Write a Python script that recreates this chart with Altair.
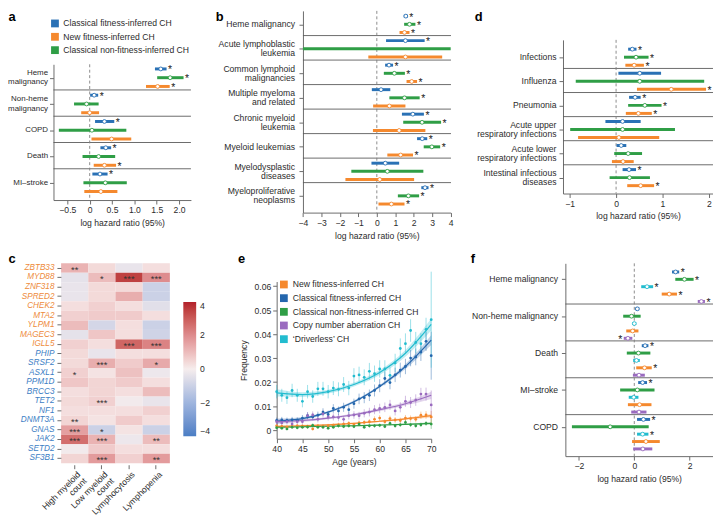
import altair as alt
import pandas as pd

W, H = 713, 516


def V(v):
    return v - 8


FONT = "Liberation Sans"
TXT = "#2b2b2b"
AXC = "#6b6b6b"
SEPC = "#5a5a5a"
FS = 8.7

BLUE = "#2a71b5"
ORANGE = "#f5892e"
GREEN = "#2f9e46"
CYAN = "#22bccf"
PURPLE = "#9a6bbf"

S_CF = "Classical fitness-inferred CH"
S_NF = "New fitness-inferred CH"
S_CN = "Classical non-fitness-inferred CH"
S_CNA = "Copy number aberration CH"
S_DL = "\u2018Driverless\u2019 CH"

# ---------------- panel a ----------------
a_cats = ["Heme\nmalignancy", "Non-heme\nmalignancy", "COPD", "Death", "MI\u2013stroke"]
a_series = [S_CF, S_CN, S_NF]
a_colors = [BLUE, GREEN, ORANGE]
a_lo = [[1.46, 0.01, 0.12, 0.24, 0.06],
        [1.51, -0.35, -0.69, -0.16, -0.14],
        [1.26, -0.19, 0.04, 0.09, -0.12]]
a_hi = [[1.72, 0.19, 0.55, 0.48, 0.40],
        [2.10, 0.20, 0.82, 0.57, 0.83],
        [1.79, 0.21, 0.93, 0.59, 0.62]]
a_est = [[1.59, 0.10, 0.33, 0.36, 0.23],
         [1.80, -0.07, 0.05, 0.20, 0.35],
         [1.52, 0.00, 0.49, 0.33, 0.25]]
a_sig = [[1, 1, 1, 1, 1],
         [1, 0, 0, 0, 0],
         [1, 0, 0, 1, 0]]
a_legend = [S_CF, S_NF, S_CN]
a_legend_colors = [BLUE, ORANGE, GREEN]

# ---------------- panel b ----------------
b_cats = ["Heme malignancy", "Acute lymphoblastic\nleukemia", "Common lymphoid\nmalignancies",
          "Multiple myeloma\nand related", "Chronic myeloid\nleukemia", "Myeloid leukemias",
          "Myelodysplastic\ndiseases", "Myeloproliferative\nneoplasms"]
b_lo = [[1.46, 0.50, 0.45, -0.27, 1.36, 2.18, -0.29, 2.41],
        [1.48, -4.00, 0.38, 0.68, 1.43, 2.54, -1.38, 1.14],
        [1.23, -0.46, 1.61, -0.20, -0.21, 0.57, -1.70, 0.09]]
b_hi = [[1.68, 2.59, 0.88, 0.73, 2.55, 2.73, 1.21, 2.80],
        [2.09, 4.00, 1.52, 2.32, 3.48, 3.43, 2.52, 2.29],
        [1.77, 3.54, 2.18, 1.55, 2.63, 1.96, 2.02, 1.50]]
b_est = [[1.57, 1.55, 0.66, 0.23, 1.95, 2.46, 0.46, 2.61],
         [1.77, None, 0.95, 1.50, 2.45, 2.98, 0.57, 1.71],
         [1.50, 1.55, 1.89, 0.68, 1.21, 1.29, 0.16, 0.79]]
b_sig = [[1, 1, 1, 0, 1, 1, 0, 1],
         [1, 0, 1, 1, 1, 1, 0, 1],
         [1, 0, 1, 0, 0, 1, 0, 1]]

# ---------------- panel d ----------------
d_cats = ["Infections", "Influenza", "Pneumonia", "Acute upper\nrespiratory infections",
          "Acute lower\nrespiratory infections", "Intestinal infectious\ndiseases"]
d_lo = [[0.26, 0.05, 0.28, -0.23, 0.01, 0.14],
        [0.17, -0.87, 0.26, -0.99, -0.04, -0.14],
        [0.20, 0.45, 0.21, -0.82, -0.09, 0.24]]
d_hi = [[0.44, 0.97, 0.53, 0.53, 0.22, 0.43],
        [0.70, 1.90, 0.98, 1.27, 0.56, 0.73],
        [0.60, 1.94, 0.77, 0.93, 0.38, 0.82]]
d_est = [[0.35, 0.51, 0.41, 0.14, 0.11, 0.28],
         [0.43, 0.51, 0.62, 0.14, 0.26, 0.29],
         [0.39, 1.19, 0.48, 0.06, 0.15, 0.53]]
d_sig = [[1, 0, 1, 0, 0, 1],
         [1, 0, 1, 0, 0, 0],
         [1, 1, 1, 0, 0, 1]]

# ---------------- panel f ----------------
f_cats = ["Heme malignancy", "Non-heme malignancy", "Death", "MI\u2013stroke", "COPD"]
f_series = [S_CF, S_CN, S_DL, S_NF, S_CNA]
f_colors = [BLUE, GREEN, CYAN, ORANGE, PURPLE]
f_lo = [[1.36, 0.04, 0.27, 0.14, 0.10],
        [1.48, -0.40, -0.27, -0.51, -2.25],
        [0.25, -0.07, -0.04, -0.20, 0.10],
        [0.99, -0.29, 0.07, -0.23, -0.08],
        [2.29, -0.38, -0.05, -0.11, -0.04]]
f_hi = [[1.62, 0.18, 0.51, 0.46, 0.57],
        [2.14, 0.23, 0.58, 0.73, 0.52],
        [0.68, 0.07, 0.20, 0.15, 0.51],
        [1.54, 0.15, 0.63, 0.62, 0.92],
        [2.55, -0.07, 0.38, 0.44, 0.65]]
f_est = [[1.49, 0.11, 0.39, 0.30, 0.33],
         [1.81, -0.10, 0.15, 0.11, -0.87],
         [0.46, 0.00, 0.08, -0.02, 0.30],
         [1.26, -0.06, 0.37, 0.19, 0.42],
         [2.42, -0.23, 0.17, 0.17, 0.31]]
f_sig = [[1, 0, 1, 1, 1],
         [1, 0, 0, 0, 0],
         [1, 0, 0, 0, 1],
         [1, 0, 1, 0, 0],
         [1, -1, 0, 0, 0]]

# ---------------- panel c ----------------
hm_genes = ["ZBTB33", "MYD88", "ZNF318", "SPRED2", "CHEK2", "MTA2", "YLPM1", "MAGEC3", "IGLL5",
            "PHIP", "SRSF2", "ASXL1", "PPM1D", "BRCC3", "TET2", "NF1", "DNMT3A", "GNAS", "JAK2",
            "SETD2", "SF3B1"]
hm_group = ["new"] * 9 + ["classical"] * 12
hm_cols = ["High myeloid count", "Low myeloid count", "Lymphocytosis", "Lymphopenia"]
hm_col_labels = ["High myeloid\ncount", "Low myeloid\ncount", "Lymphocytosis", "Lymphopenia"]
hm_vals = [
    [1.2, -0.4, -0.3, -0.3, 0.3, 0.6, 1.0, -0.4, 0.6, 0.4, 0.4, 0.6, 0.8, 0.3, 0.4, 0.3, 0.5, 1.6, 2.6, -0.1, 0.5],
    [0.4, 1.0, 0.4, 0.4, 0.6, 0.7, -0.8, 0.8, 0.3, -0.3, 1.3, 0.2, 0.5, 0.5, 0.6, 0.3, 0.2, -1.0, 1.2, 0.7, 1.7],
    [-0.3, 3.5, 0.4, 1.3, 0.3, 0.7, 0.3, 0.3, 2.8, 0.3, 0.7, 0.9, 0.7, 0.3, -0.1, 0.3, 0.7, 0.2, -0.2, 0.3, 0.6],
    [0.3, 2.0, -1.0, -1.0, -0.5, 0.3, -1.0, -0.9, 2.2, 0.3, 1.4, -0.2, 0.3, 1.0, -0.3, 0.6, 0.3, -1.0, 1.0, 0.3, 1.7],
]
hm_stars = [
    ["**", "", "", "", "", "", "", "", "", "", "", "*", "", "", "", "", "**", "***", "***", "", ""],
    ["", "*", "", "", "", "", "", "", "", "", "***", "", "", "", "***", "", "", "*", "***", "", "***"],
    ["", "***", "", "", "", "", "", "", "***", "", "", "", "", "", "", "", "", "", "", "", ""],
    ["", "***", "", "", "", "", "", "", "***", "", "*", "", "", "", "", "", "", "", "**", "", "**"],
]
hm_ticks = [-4, -2, 0, 2, 4]

# ---------------- panel e ----------------
e_ages = list(range(40, 71))
e_series = [S_NF, S_CF, S_CN, S_CNA, S_DL]
e_colors = [ORANGE, "#2466ad", GREEN, PURPLE, CYAN]
e_pts = {
    S_NF: [0.0018, 0.0015, 0.0012, 0.0015, 0.0018, 0.0016, 0.0015, 0.0005, 0.0018, 0.0016, 0.0018,
           0.0020, 0.0022, 0.0025, 0.0028, 0.0022, 0.0030, 0.0032, 0.0035, 0.0045, 0.0050, 0.0035,
           0.0048, 0.0042, 0.0040, 0.0050, 0.0048, 0.0045, 0.0062, 0.0063, 0.0055],
    S_CF: [0.0040, 0.0043, 0.0040, 0.0043, 0.0041, 0.0050, 0.0060, 0.0055, 0.0062, 0.0075, 0.0065,
           0.0090, 0.0080, 0.0095, 0.0085, 0.0110, 0.0130, 0.0135, 0.0145, 0.0165, 0.0185, 0.0215,
           0.0198, 0.0230, 0.0250, 0.0265, 0.0300, 0.0305, 0.0325, 0.0370, 0.0310],
    S_CN: [0.0010, 0.0008, 0.0005, 0.0012, 0.0010, 0.0012, 0.0013, 0.0020, 0.0012, 0.0012, 0.0008,
           0.0012, 0.0018, 0.0015, 0.0018, 0.0015, 0.0025, 0.0012, 0.0018, 0.0018, 0.0020, 0.0015,
           0.0028, 0.0018, 0.0022, 0.0032, 0.0022, 0.0018, 0.0022, 0.0028, 0.0025],
    S_CNA: [0.0035, 0.0030, 0.0035, 0.0025, 0.0035, 0.0035, 0.0060, 0.0063, 0.0045, 0.0068, 0.0055,
            0.0055, 0.0052, 0.0045, 0.0060, 0.0063, 0.0060, 0.0070, 0.0075, 0.0085, 0.0090, 0.0095,
            0.0105, 0.0080, 0.0095, 0.0120, 0.0115, 0.0125, 0.0150, 0.0150, 0.0105],
    S_DL: [0.0160, 0.0145, 0.0135, 0.0165, 0.0145, 0.0120, 0.0160, 0.0140, 0.0172, 0.0172, 0.0160,
           0.0175, 0.0170, 0.0190, 0.0175, 0.0225, 0.0230, 0.0220, 0.0245, 0.0235, 0.0255, 0.0255,
           0.0228, 0.0280, 0.0340, 0.0360, 0.0415, 0.0365, 0.0360, 0.0420, 0.0460],
}
e_err = {
    S_NF: [0.0008, 0.0008, 0.0007, 0.0008, 0.0008, 0.0008, 0.0008, 0.0006, 0.0008, 0.0008, 0.0008,
           0.0009, 0.0009, 0.0009, 0.0010, 0.0009, 0.0010, 0.0010, 0.0011, 0.0012, 0.0012, 0.0011,
           0.0012, 0.0012, 0.0012, 0.0013, 0.0013, 0.0013, 0.0015, 0.0016, 0.0025],
    S_CF: [0.0012, 0.0012, 0.0012, 0.0012, 0.0012, 0.0013, 0.0014, 0.0014, 0.0015, 0.0016, 0.0016,
           0.0018, 0.0018, 0.0019, 0.0019, 0.0021, 0.0022, 0.0023, 0.0024, 0.0025, 0.0027, 0.0028,
           0.0028, 0.0030, 0.0031, 0.0032, 0.0034, 0.0035, 0.0037, 0.0040, 0.0100],
    S_CN: [0.0007, 0.0006, 0.0005, 0.0007, 0.0007, 0.0007, 0.0007, 0.0008, 0.0007, 0.0007, 0.0006,
           0.0007, 0.0008, 0.0007, 0.0008, 0.0007, 0.0009, 0.0007, 0.0008, 0.0008, 0.0008, 0.0007,
           0.0009, 0.0008, 0.0009, 0.0010, 0.0009, 0.0008, 0.0009, 0.0010, 0.0020],
    S_CNA: [0.0012, 0.0011, 0.0012, 0.0010, 0.0012, 0.0012, 0.0015, 0.0015, 0.0013, 0.0016, 0.0015,
            0.0015, 0.0015, 0.0014, 0.0016, 0.0016, 0.0016, 0.0017, 0.0018, 0.0019, 0.0020, 0.0020,
            0.0021, 0.0019, 0.0021, 0.0023, 0.0023, 0.0024, 0.0026, 0.0027, 0.0060],
    S_DL: [0.0028, 0.0027, 0.0026, 0.0028, 0.0027, 0.0025, 0.0028, 0.0026, 0.0029, 0.0029, 0.0028,
           0.0029, 0.0029, 0.0031, 0.0030, 0.0033, 0.0034, 0.0033, 0.0035, 0.0034, 0.0036, 0.0036,
           0.0034, 0.0038, 0.0042, 0.0043, 0.0047, 0.0044, 0.0044, 0.0048, 0.0200],
}
e_fit_ages = [40, 45, 50, 55, 60, 65, 70]
e_fit = {
    S_NF: [0.0015, 0.0018, 0.0022, 0.0028, 0.0037, 0.0047, 0.0060],
    S_CF: [0.0038, 0.0048, 0.0075, 0.0118, 0.0182, 0.0265, 0.0375],
    S_CN: [0.0012, 0.0014, 0.0016, 0.0018, 0.0021, 0.0024, 0.0028],
    S_CNA: [0.0035, 0.0040, 0.0050, 0.0064, 0.0085, 0.0110, 0.0145],
    S_DL: [0.0155, 0.0148, 0.0160, 0.0190, 0.0240, 0.0320, 0.0440],
}
e_band = {
    S_NF: [0.0006, 0.0004, 0.0003, 0.0003, 0.0003, 0.0004, 0.0007],
    S_CF: [0.0010, 0.0007, 0.0005, 0.0005, 0.0006, 0.0010, 0.0020],
    S_CN: [0.0005, 0.0003, 0.0003, 0.0003, 0.0003, 0.0003, 0.0005],
    S_CNA: [0.0010, 0.0006, 0.0005, 0.0005, 0.0006, 0.0008, 0.0015],
    S_DL: [0.0015, 0.0010, 0.0008, 0.0008, 0.0010, 0.0014, 0.0025],
}

AX = dict(grid=False, domainColor=AXC, tickColor=AXC, labelColor=TXT, titleColor=TXT,
          labelFont=FONT, titleFont=FONT, labelFontSize=FS, titleFontSize=FS,
          titleFontWeight="normal", tickSize=4, labelFlush=False, labelOverlap=False,
          domainWidth=1, tickWidth=1)

L = []


def forest(cats, series, colors, lo, hi, est, sig, xdom, xr, ydom, yr, seps, sep_right,
           xticks, fmt, label_x, label_mid, label_fs=FS):
    n = len(series)
    recs = []
    for ci, c in enumerate(cats):
        for si, s in enumerate(series):
            recs.append({"cat": c, "series": s, "row": ci * n + si,
                         "lo": lo[si][ci], "hi": hi[si][ci],
                         "est": est[si][ci], "sig": sig[si][ci]})
    df = pd.DataFrame(recs)
    xs = alt.Scale(domain=xdom, range=[V(xr[0]), V(xr[1])], zero=False, nice=False)
    ys = alt.Scale(domain=ydom, range=[V(yr[0]), V(yr[1])], zero=False, nice=False)
    cs = alt.Scale(domain=series, range=colors)
    lab_rows = [ci * n + label_mid for ci in range(len(cats))]
    lab_df = pd.DataFrame({"cat": cats, "row": lab_rows})
    lab_df["multi"] = lab_df["cat"].str.contains("\n")
    sep_df = pd.DataFrame({"y": seps})
    zero_df = pd.DataFrame({"z": [0]})
    out = []
    out.append(alt.Chart(sep_df).mark_rule(color=SEPC, strokeWidth=0.9).encode(
        y=alt.Y("y:Q", scale=ys, axis=None),
        x=alt.value(V(xr[0])), x2=alt.value(V(sep_right))))
    out.append(alt.Chart(zero_df).mark_rule(color="#808080", strokeDash=[3, 2.5], strokeWidth=0.9).encode(
        x=alt.X("z:Q", scale=xs, axis=None),
        y=alt.value(V(yr[0])), y2=alt.value(V(yr[1]))))
    xaxis = alt.Axis(orient="bottom", offset=V(yr[1]) - H, values=xticks, labelExpr=fmt,
                     title="log hazard ratio (95%)", **AX)
    yaxis = alt.Axis(orient="left", offset=-V(xr[0]), values=lab_rows, labels=False,
                     title=None, **AX)
    out.append(alt.Chart(df).mark_rule(strokeWidth=3).encode(
        x=alt.X("lo:Q", scale=xs, axis=xaxis), x2="hi:Q",
        y=alt.Y("row:Q", scale=ys, axis=yaxis),
        color=alt.Color("series:N", scale=cs, legend=None)))
    out.append(alt.Chart(df).transform_filter("isValid(datum.est)").mark_point(
        shape="circle", filled=True, fill="white", size=15, strokeWidth=0.9, opacity=1).encode(
        x=alt.X("est:Q", scale=xs, axis=None),
        y=alt.Y("row:Q", scale=ys, axis=None),
        stroke=alt.Stroke("series:N", scale=cs, legend=None)))
    out.append(alt.Chart(df).transform_filter("datum.sig == 1").mark_text(
        text="*", align="left", baseline="middle", dx=1.5, dy=1.5, font=FONT,
        fontSize=10.5, color="#222222").encode(
        x=alt.X("hi:Q", scale=xs, axis=None), y=alt.Y("row:Q", scale=ys, axis=None)))
    out.append(alt.Chart(df).transform_filter("datum.sig == -1").mark_text(
        text="*", align="right", baseline="middle", dx=-1.5, dy=1.5, font=FONT,
        fontSize=10.5, color="#222222").encode(
        x=alt.X("lo:Q", scale=xs, axis=None), y=alt.Y("row:Q", scale=ys, axis=None)))
    lh = 9.3
    out.append(alt.Chart(lab_df).transform_filter("!datum.multi").mark_text(
        align="right", baseline="middle", font=FONT, fontSize=label_fs, color=TXT).encode(
        x=alt.value(V(label_x)), y=alt.Y("row:Q", scale=ys, axis=None), text="cat:N"))
    out.append(alt.Chart(lab_df).transform_filter("datum.multi").mark_text(
        align="right", baseline="middle", lineBreak="\n", font=FONT, fontSize=label_fs,
        lineHeight=lh, dy=-lh / 2, color=TXT).encode(
        x=alt.value(V(label_x)), y=alt.Y("row:Q", scale=ys, axis=None), text="cat:N"))
    return out


FMT1 = "datum.value == 0 ? '0' : format(datum.value, '.1f')"
FMT0 = "format(datum.value, 'd')"

# panel a
L += forest(a_cats, a_series, a_colors, a_lo, a_hi, a_est, a_sig,
            [-0.81, 2.265], [54, 193], [-0.53, 14.97], [62, 199.3],
            [2.4, 5.4, 8.4, 11.4], 193, [-0.5, 0, 0.5, 1.0, 1.5, 2.0], FMT1, 48.5, 1, 8.0)
# panel b
L += forest(b_cats, a_series, a_colors, b_lo, b_hi, b_est, b_sig,
            [-4, 4], [306.3, 455.7], [-0.64, 24.05], [8, 212],
            [2.38, 5.38, 8.38, 11.38, 14.38, 17.38, 20.38], 456,
            [-4, -3, -2, -1, 0, 1, 2, 3, 4], FMT0, 298.3, 1)
# panel d
L += forest(d_cats, a_series, a_colors, d_lo, d_hi, d_est, d_sig,
            [-1.145, 2.09], [569.3, 721], [-1.16, 17.98], [37.3, 192.7],
            [2.4, 5.4, 8.4, 11.4, 14.4], 721, [-1, 0, 1, 2], FMT0, 562.7, 1)
# panel f
L += forest(f_cats, f_series, f_colors, f_lo, f_hi, f_est, f_sig,
            [-2.486, 2.84], [571.7, 721], [-1.17, 24.98], [263.3, 458.3],
            [4.35, 9.35, 14.35, 19.35], 721, [-2, 0, 2], FMT0, 564.3, 1)

# legend of panel a
leg_a = pd.DataFrame({"name": a_legend, "i": list(range(len(a_legend)))})
ly_a = alt.Scale(domain=[0, 2], range=[V(20.7), V(47.7)])
L.append(alt.Chart(leg_a).mark_square(size=62, opacity=1).encode(
    x=alt.value(V(55.5)), y=alt.Y("i:Q", scale=ly_a, axis=None),
    color=alt.Color("name:N", scale=alt.Scale(domain=a_legend, range=a_legend_colors), legend=None)))
L.append(alt.Chart(leg_a).mark_text(align="left", baseline="middle", font=FONT, fontSize=FS, color=TXT).encode(
    x=alt.value(V(64)), y=alt.Y("i:Q", scale=ly_a, axis=None), text="name:N"))

# ---------------- heatmap (panel c) ----------------
hm_recs = []
for ci, col in enumerate(hm_cols):
    for gi, g in enumerate(hm_genes):
        hm_recs.append({"col": col, "gene": g, "val": hm_vals[ci][gi], "stars": hm_stars[ci][gi]})
hm_df = pd.DataFrame(hm_recs)
xs_c = alt.Scale(domain=hm_cols, range=[V(61.7), V(171.7)], paddingInner=0, paddingOuter=0)
ys_c = alt.Scale(domain=hm_genes, range=[V(263.2), V(465.5)], paddingInner=0, paddingOuter=0)
hm_color = alt.Scale(domain=[-4, -2, 0, 2, 4],
                     range=["#4a7ec4", "#9fb5de", "#f6eded", "#de8c8e", "#b3202a"],
                     interpolate="lab")
AXB = {k: v for k, v in AX.items() if k != "labelFlush"}
L.append(alt.Chart(hm_df).mark_rect().encode(
    x=alt.X("col:N", scale=xs_c, axis=alt.Axis(orient="bottom", offset=V(467) - H, labels=False,
                                              domain=False, title=None, **AXB)),
    y=alt.Y("gene:N", scale=ys_c, axis=alt.Axis(orient="left", offset=-V(61.5), labels=False,
                                               domain=False, title=None, **AXB)),
    color=alt.Color("val:Q", scale=hm_color, legend=alt.Legend(
        orient="none", legendX=V(185.3), legendY=V(302.3), direction="vertical",
        gradientLength=136, gradientThickness=13, title=None, values=hm_ticks,
        labelFont=FONT, labelFontSize=FS, labelColor=TXT, gradientStrokeWidth=0,
        labelOffset=4, labelOverlap=False, tickCount=5))))
L.append(alt.Chart(hm_df).transform_filter("datum.stars != ''").mark_text(
    baseline="middle", dy=2, font=FONT, fontSize=9.5, color="#333333").encode(
    x=alt.X("col:N", scale=xs_c, axis=None), y=alt.Y("gene:N", scale=ys_c, axis=None), text="stars:N"))
gene_df = pd.DataFrame({"gene": hm_genes, "group": hm_group})
L.append(alt.Chart(gene_df).mark_text(
    align="right", baseline="middle", font=FONT, fontSize=8.3, fontStyle="italic").encode(
    x=alt.value(V(55)), y=alt.Y("gene:N", scale=ys_c, axis=None), text="gene:N",
    color=alt.Color("group:N", scale=alt.Scale(domain=["new", "classical"], range=["#ee8a3a", "#3c7ec4"]),
                    legend=None)))
col_df = pd.DataFrame({"col": hm_cols, "label": hm_col_labels})
L.append(alt.Chart(col_df).mark_text(
    angle=315, align="right", baseline="top", lineBreak="\n", font=FONT, fontSize=FS,
    lineHeight=9, color=TXT, dx=2).encode(
    x=alt.X("col:N", scale=xs_c, axis=None), y=alt.value(V(474)), text="label:N"))

# ---------------- panel e ----------------
pts = []
for s in e_series:
    for i, a in enumerate(e_ages):
        v = e_pts[s][i]
        e = e_err[s][i]
        pts.append({"series": s, "age": a, "val": v, "lo": v - e, "hi": v + e})
pts_df = pd.DataFrame(pts)
fits = []
for s in e_series:
    for i, a in enumerate(e_fit_ages):
        f = e_fit[s][i]
        b = e_band[s][i]
        fits.append({"series": s, "age": a, "fit": f, "lo": f - b, "hi": f + b})
fit_df = pd.DataFrame(fits)
xs_e = alt.Scale(domain=[40, 70], range=[V(279.7), V(436)], zero=False, nice=False)
ys_e = alt.Scale(domain=[-0.0036, 0.0619], range=[V(440.7), V(281.7)], zero=False, nice=False)
cs_e = alt.Scale(domain=e_series, range=e_colors)
L.append(alt.Chart(fit_df).mark_area(opacity=0.28, interpolate="monotone").encode(
    x=alt.X("age:Q", scale=xs_e, axis=None), y=alt.Y("lo:Q", scale=ys_e, axis=None), y2="hi:Q",
    color=alt.Color("series:N", scale=cs_e, legend=None)))
L.append(alt.Chart(pts_df).mark_rule(strokeWidth=1, opacity=0.45).encode(
    x=alt.X("age:Q", scale=xs_e, axis=None), y=alt.Y("lo:Q", scale=ys_e, axis=None), y2="hi:Q",
    color=alt.Color("series:N", scale=cs_e, legend=None)))
L.append(alt.Chart(fit_df).mark_line(strokeWidth=1.2, interpolate="monotone").encode(
    x=alt.X("age:Q", scale=xs_e, axis=None), y=alt.Y("fit:Q", scale=ys_e, axis=None),
    color=alt.Color("series:N", scale=cs_e, legend=None)))
L.append(alt.Chart(pts_df).mark_circle(size=8, opacity=1).encode(
    x=alt.X("age:Q", scale=xs_e, axis=alt.Axis(orient="bottom", offset=V(440.7) - H,
                                              values=[40, 45, 50, 55, 60, 65, 70], title="Age (years)", **AX)),
    y=alt.Y("val:Q", scale=ys_e, axis=alt.Axis(orient="left", offset=-V(279.7),
                                              values=[0, 0.01, 0.02, 0.03, 0.04, 0.05, 0.06],
                                              labelExpr="datum.value == 0 ? '0' : format(datum.value, '.2f')",
                                              title="Frequency", titlePadding=6, **AX)),
    color=alt.Color("series:N", scale=cs_e, legend=None)))
leg_e = pd.DataFrame({"name": e_series, "i": list(range(len(e_series)))})
ly_e = alt.Scale(domain=[0, 4], range=[V(284.7), V(340)])
L.append(alt.Chart(leg_e).mark_square(size=62, opacity=1).encode(
    x=alt.value(V(287)), y=alt.Y("i:Q", scale=ly_e, axis=None),
    color=alt.Color("name:N", scale=cs_e, legend=None)))
L.append(alt.Chart(leg_e).mark_text(align="left", baseline="middle", font=FONT, fontSize=FS, color=TXT).encode(
    x=alt.value(V(296)), y=alt.Y("i:Q", scale=ly_e, axis=None), text="name:N"))

# ---------------- panel letters ----------------
one = pd.DataFrame({"k": [0]})
for letter, lx, ly in [("a", 8.5, 18), ("b", 218, 18), ("d", 480, 18),
                       ("c", 8.5, 262.7), ("e", 240.7, 262.7), ("f", 476, 262.7)]:
    L.append(alt.Chart(one).mark_text(text=letter, align="left", baseline="alphabetic",
                                      font=FONT, fontSize=13, fontWeight="bold", color="#000000").encode(
        x=alt.value(V(lx)), y=alt.value(V(ly))))

chart = alt.layer(*L).resolve_scale(
    x="independent", y="independent", color="independent", stroke="independent"
).properties(
    width=W, height=H, autosize=alt.AutoSizeParams(type="none"), padding=0, background="white"
).configure_view(stroke=None)

chart.save("out.html", embed_options={"renderer": "svg", "actions": False})
